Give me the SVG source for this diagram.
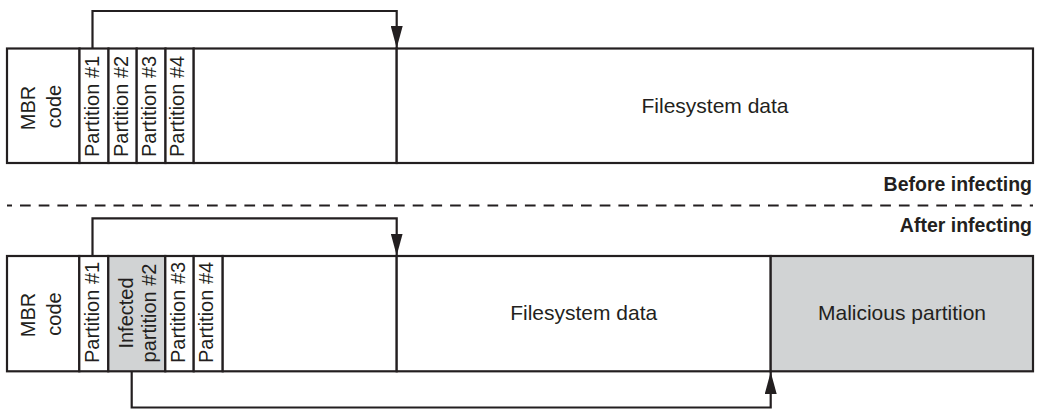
<svg xmlns="http://www.w3.org/2000/svg" width="1037" height="409" viewBox="0 0 1037 409">
<style>
.box{fill:#fff;stroke:#231f20;stroke-width:2.2}
.gray{fill:#d1d3d4;stroke:#231f20;stroke-width:2.2}
.t{font-family:"Liberation Sans",Arial,sans-serif;font-size:20px;fill:#231f20}
.h{font-size:21px}
.m{text-anchor:middle}
.b{font-family:"Liberation Sans",Arial,sans-serif;font-size:19.5px;font-weight:bold;fill:#231f20;text-anchor:end}
.conn{fill:none;stroke:#231f20;stroke-width:2.2}
</style>
<defs>
<marker id="ah" viewBox="0 0 22 12" refX="22" refY="6" markerWidth="22" markerHeight="12" markerUnits="userSpaceOnUse" orient="auto">
<path d="M0,0 L22,6 L0,12 Z" fill="#231f20"/>
</marker>
</defs>
<rect x="0" y="0" width="1037" height="409" fill="#fff"/>

<!-- Top row: before infecting -->
<g id="top-mbr"><rect class="box" x="7" y="48.5" width="72.5" height="114.5"/>
<text class="t m" transform="translate(35,108) rotate(-90)">MBR</text>
<text class="t m" transform="translate(61,106.5) rotate(-90)">code</text></g>
<g id="top-p1"><rect class="box" x="79.5" y="48.5" width="29" height="114.5"/>
<text class="t" transform="translate(99,157) rotate(-90)">Partition #1</text></g>
<g id="top-p2"><rect class="box" x="108.5" y="48.5" width="28.2" height="114.5"/>
<text class="t" transform="translate(127.5,157) rotate(-90)">Partition #2</text></g>
<g id="top-p3"><rect class="box" x="136.7" y="48.5" width="28.8" height="114.5"/>
<text class="t" transform="translate(155.7,157) rotate(-90)">Partition #3</text></g>
<g id="top-p4"><rect class="box" x="165.5" y="48.5" width="28.2" height="114.5"/>
<text class="t" transform="translate(184.2,157) rotate(-90)">Partition #4</text></g>
<g id="top-free"><rect class="box" x="193.7" y="48.5" width="203" height="114.5"/></g>
<g id="top-fs"><rect class="box" x="396.7" y="48.5" width="636.3" height="114.5"/>
<text class="t h m" x="715" y="112.5">Filesystem data</text></g>

<g id="labels">
<text class="b" x="1032" y="190.5">Before infecting</text>
<line x1="7" y1="205.5" x2="1033" y2="205.5" stroke="#231f20" stroke-width="2.2" stroke-dasharray="10.7 8" stroke-dashoffset="5.7"/>
<text class="b" x="1032" y="232">After infecting</text>
</g>

<!-- Bottom row: after infecting -->
<g id="bot-mbr"><rect class="box" x="7" y="256" width="72.3" height="115.3"/>
<text class="t m" transform="translate(35,315) rotate(-90)">MBR</text>
<text class="t m" transform="translate(61,314) rotate(-90)">code</text></g>
<g id="bot-p1"><rect class="box" x="79.3" y="256" width="29" height="115.3"/>
<text class="t" transform="translate(98.7,363) rotate(-90)">Partition #1</text></g>
<g id="bot-p2"><rect class="gray" x="108.3" y="256" width="57" height="115.3"/>
<text class="t m" transform="translate(133,313) rotate(-90)">Infected</text>
<text class="t m" transform="translate(155.5,313) rotate(-90)">partition #2</text></g>
<g id="bot-p3"><rect class="box" x="165.3" y="256" width="28.4" height="115.3"/>
<text class="t" transform="translate(185,363) rotate(-90)">Partition #3</text></g>
<g id="bot-p4"><rect class="box" x="193.7" y="256" width="29" height="115.3"/>
<text class="t" transform="translate(213,363) rotate(-90)">Partition #4</text></g>
<g id="bot-free"><rect class="box" x="222.7" y="256" width="174" height="115.3"/></g>
<g id="bot-fs"><rect class="box" x="396.7" y="256" width="374" height="115.3"/>
<text class="t h m" x="583.7" y="320">Filesystem data</text></g>
<g id="bot-mal"><rect class="gray" x="770.7" y="256" width="262.3" height="115.3"/>
<text class="t h m" x="902" y="320">Malicious partition</text></g>

<g id="connectors">
<path class="conn" d="M92.5,48.5 V11 H396.7 V48" marker-end="url(#ah)"/>
<path class="conn" d="M92.5,256 V218.3 H396.7 V255.5" marker-end="url(#ah)"/>
<path class="conn" d="M131.7,371.3 V407.5 H770.7 V372" marker-end="url(#ah)"/>
</g>
</svg>
